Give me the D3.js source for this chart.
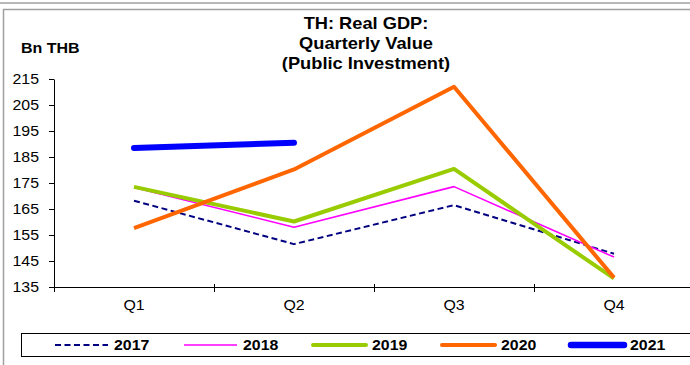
<!DOCTYPE html>
<html><head><meta charset="utf-8">
<script src="https://cdn.jsdelivr.net/npm/d3@7"></script>
<style>body{margin:0;background:#fff}svg{display:block;font-family:"Liberation Sans",Arial,sans-serif}</style>
</head><body>
<script>
const categories = ["Q1","Q2","Q3","Q4"];
const yTicks = [135,145,155,165,175,185,195,205,215];
const s2017 = [168.2,151.5,166.5,147.8];
const s2018 = [173.3,158.0,173.6,146.5];
const s2019 = [173.5,160.2,180.4,138.3];
const s2020 = [157.6,180.2,212.0,138.6];
const s2021 = [188.5,190.5,null,null];
const seriesNames = ["2017","2018","2019","2020","2021"];
const seriesData = [s2017,s2018,s2019,s2020,s2021];
const colors = ["#000080","#FF00FF","#99CC00","#FF6600","#0000FF"];
const widths = [2,1.6,4,4,6];
const legendWidths = [2,1.6,4,4,6.5];
const dashes = ["6,3.5",null,null,null,null];

const W=690,H=365,SX=1.12;
const svg=d3.select("body").append("svg").attr("width",W).attr("height",H);
function stretch(sel){
  sel.each(function(){
    const t=d3.select(this);
    const xv=+t.attr("x")||0;
    t.attr("x",xv/SX).attr("transform",`scale(${SX},1)`);
  });
}
// frame
svg.append("line").attr("x1",0).attr("x2",W).attr("y1",3).attr("y2",3).attr("stroke","#a0a0a0").attr("stroke-width",1.5);
svg.append("path").attr("d","M3.5,"+H+"V9.5H"+W).attr("fill","none").attr("stroke","#a0a0a0").attr("stroke-width",1.5);

const x0=54,x1=694,yTop=79,yBot=287;
const x=d3.scaleBand().domain(categories).range([x0,x1]);
const y=d3.scaleLinear().domain([135,215]).range([yBot,yTop]);

// title
const title=["TH: Real GDP:","Quarterly Value","(Public Investment)"];
svg.append("g").selectAll("text").data(title).join("text")
 .attr("x",366).attr("y",(d,i)=>29.5+i*20).attr("text-anchor","middle")
 .attr("font-weight","bold").attr("font-size",16.3).text(d=>d).call(stretch);
svg.append("text").attr("x",21).attr("y",53).attr("font-weight","bold").attr("font-size",14.3).text("Bn THB").call(stretch);

// y axis
const ya=svg.append("g").attr("transform",`translate(${x0},0)`)
 .call(d3.axisLeft(y).tickValues(yTicks).tickSize(5).tickSizeOuter(0).tickPadding(10));
ya.select(".domain").attr("stroke","#000");
ya.selectAll("text").attr("font-size",14.2).attr("font-family","Liberation Sans, Arial").attr("fill","#000").call(stretch);

// x axis
const xa=svg.append("g").attr("transform",`translate(0,${yBot})`)
 .call(d3.axisBottom(x).tickSize(0).tickPadding(13));
xa.select(".domain").attr("stroke","#000");
xa.selectAll("text").attr("font-size",14.2).attr("font-family","Liberation Sans, Arial").attr("fill","#000").call(stretch);
const bounds=categories.map(c=>x(c));
svg.append("g").selectAll("line").data(bounds).join("line")
 .attr("x1",d=>d+0.5).attr("x2",d=>d+0.5).attr("y1",yBot-3).attr("y2",yBot+5).attr("stroke","#000");

// lines
const line=d3.line().defined(d=>d!=null).x((d,i)=>x(categories[i])+x.bandwidth()/2).y(d=>y(d));
seriesData.forEach((s,k)=>{
  const p=svg.append("path").datum(s).attr("d",line).attr("fill","none")
   .attr("stroke",colors[k]).attr("stroke-width",widths[k])
   .attr("stroke-linejoin","round").attr("stroke-linecap",k==4?"round":"butt");
  if(dashes[k]) p.attr("stroke-dasharray",dashes[k]);
});

// legend
svg.append("rect").attr("x",21.5).attr("y",333.5).attr("width",W).attr("height",23).attr("fill","none").attr("stroke","#000");
const lg=svg.append("g").selectAll("g").data(seriesNames).join("g")
 .attr("transform",(d,i)=>`translate(${55+i*129},345)`);
lg.append("line").attr("x1",0).attr("x2",53).attr("y1",0).attr("y2",0)
 .attr("stroke",(d,i)=>colors[i]).attr("stroke-width",(d,i)=>legendWidths[i])
 .attr("stroke-dasharray",(d,i)=>dashes[i]).attr("stroke-linecap",(d,i)=>i>=2?"round":"butt");
lg.append("text").attr("x",59).attr("y",5).attr("font-weight","bold").attr("font-size",14.2).text(d=>d).call(stretch);
</script>
</body></html>
